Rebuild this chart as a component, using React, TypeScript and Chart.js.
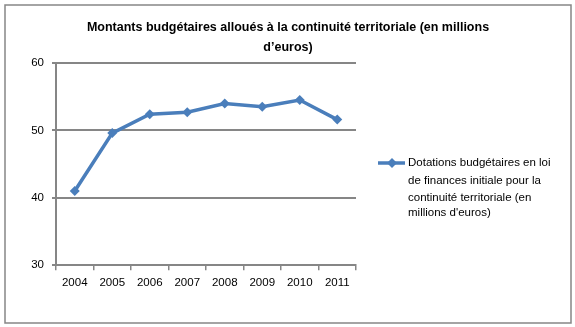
import React, { useEffect, useRef } from 'react';
import { Chart, registerables } from 'chart.js';

Chart.register(...registerables);

const titleLines = ['Montants budgétaires alloués à la continuité territoriale (en millions', 'd\u2019euros)'];
const years = ['2004', '2005', '2006', '2007', '2008', '2009', '2010', '2011'];
const dotations = [41.0, 49.6, 52.4, 52.7, 54.0, 53.5, 54.5, 51.6];
const legendLines = ['Dotations budgétaires en loi', 'de finances initiale pour la', 'continuité territoriale (en', "millions d'euros)"];
const yMin = 30;
const yMax = 60;
const yStep = 10;

const BLUE = '#4a7ebb';
const GREY = '#868686';
const FONT = '"Liberation Sans", Arial, sans-serif';

const decorPlugin = {
  id: 'decor',
  beforeDraw(chart: any) {
    const ctx = chart.ctx;
    ctx.save();
    ctx.fillStyle = '#ffffff';
    ctx.fillRect(0, 0, chart.width, chart.height);
    ctx.strokeStyle = GREY;
    ctx.lineWidth = 1.5;
    ctx.strokeRect(5, 5, 566, 318);
    ctx.restore();
  },
  afterDraw(chart: any) {
    const ctx = chart.ctx;
    ctx.save();
    // title
    ctx.fillStyle = '#000';
    ctx.font = `bold 12.5px ${FONT}`;
    ctx.textAlign = 'center';
    ctx.textBaseline = 'middle';
    titleLines.forEach((t, i) => ctx.fillText(t, 288, 28 + i * 20));
    // legend
    const lx = 378, ly = 163;
    ctx.strokeStyle = BLUE;
    ctx.lineWidth = 3.5;
    ctx.beginPath();
    ctx.moveTo(lx, ly);
    ctx.lineTo(lx + 27, ly);
    ctx.stroke();
    ctx.fillStyle = BLUE;
    ctx.beginPath();
    const cx = lx + 14;
    ctx.moveTo(cx, ly - 5);
    ctx.lineTo(cx + 5, ly);
    ctx.lineTo(cx, ly + 5);
    ctx.lineTo(cx - 5, ly);
    ctx.closePath();
    ctx.fill();
    ctx.fillStyle = '#000';
    ctx.font = `11.5px ${FONT}`;
    ctx.textAlign = 'left';
    const lineYs = [163, 181, 198, 213];
    legendLines.forEach((t, i) => ctx.fillText(t, 408, lineYs[i]));
    ctx.restore();
  },
};

export default function App() {
  const ref = useRef<HTMLCanvasElement>(null);
  useEffect(() => {
    if (!ref.current) return;
    const chart = new Chart(ref.current, {
      type: 'line',
      data: {
        labels: years,
        datasets: [
          {
            label: legendLines.join(' '),
            data: dotations,
            borderColor: BLUE,
            backgroundColor: BLUE,
            borderWidth: 3.5,
            pointStyle: 'rectRot',
            pointRadius: 5,
            pointBorderWidth: 0,
            pointBackgroundColor: BLUE,
            tension: 0,
          },
        ],
      },
      options: {
        responsive: false,
        animation: false,
        layout: { padding: { top: 63, right: 219, bottom: 31, left: 0 } },
        plugins: { legend: { display: false }, title: { display: false }, tooltip: { enabled: false } },
        scales: {
          x: {
            offset: true,
            grid: { display: true, drawOnChartArea: false, drawTicks: true, tickLength: 5, color: GREY, lineWidth: 1.5, offset: true },
            border: { display: true, color: GREY, width: 2 },
            ticks: { color: '#000', font: { family: FONT, size: 11.5 }, padding: 6, maxRotation: 0 },
          },
          y: {
            min: yMin,
            max: yMax,
            afterFit(scale: any) { scale.width = 56; },
            grid: { display: true, drawOnChartArea: true, drawTicks: true, tickLength: 4, color: GREY, lineWidth: 2 },
            border: { display: true, color: GREY, width: 2 },
            ticks: { stepSize: yStep, color: '#000', font: { family: FONT, size: 11.5 }, padding: 8 },
          },
        },
      },
      plugins: [decorPlugin],
    });
    return () => chart.destroy();
  }, []);
  return (
    <div style={{ position: 'fixed', left: 0, top: 0, width: 575, height: 327, background: '#fff' }}>
      <canvas ref={ref} width={575} height={327} style={{ display: 'block' }} />
    </div>
  );
}
